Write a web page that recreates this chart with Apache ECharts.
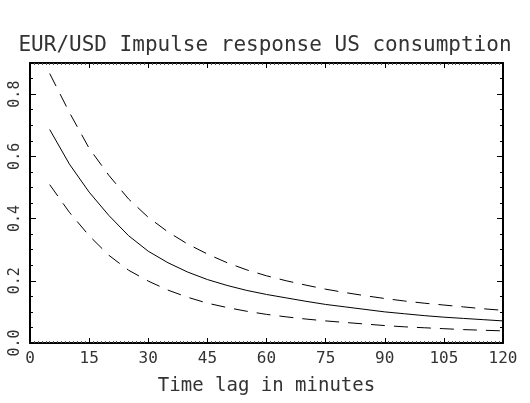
<!DOCTYPE html>
<html>
<head>
<meta charset="utf-8">
<script src="https://cdn.jsdelivr.net/npm/echarts@6/dist/echarts.min.js"></script>
<style>html,body{margin:0;padding:0;background:#fff}#c{width:530px;height:403px}</style>
</head>
<body>
<div id="c"></div>
<script>
var titleText = 'EUR/USD Impulse response US consumption';
var xAxisName = 'Time lag in minutes';
var lags = [5,10,15,20,25,30,35,40,45,50,55,60,65,70,75,80,85,90,95,100,105,110,115,120];
var response = [0.686,0.575,0.485,0.410,0.345,0.295,0.258,0.228,0.204,0.185,0.169,0.156,0.145,0.134,0.124,0.116,0.108,0.100,0.094,0.088,0.083,0.079,0.075,0.071];
var upperBand = [0.866,0.741,0.626,0.539,0.463,0.404,0.357,0.318,0.286,0.258,0.235,0.216,0.200,0.186,0.173,0.162,0.152,0.143,0.135,0.128,0.122,0.116,0.110,0.105];
var lowerBand = [0.509,0.420,0.345,0.282,0.234,0.199,0.170,0.147,0.128,0.114,0.102,0.092,0.084,0.077,0.071,0.066,0.061,0.056,0.052,0.049,0.046,0.043,0.041,0.039];
var xTicks = [0,15,30,45,60,75,90,105,120];
var yTicks = [0.0,0.2,0.4,0.6,0.8];

function pairs(v){ return lags.map(function(l,i){ return [l, v[i]]; }); }
var FONT = 'DejaVu Sans Mono';
var chart = echarts.init(document.getElementById('c'), null, {renderer:'canvas'});

function yAx(pos, interval, len, labels, line){
  return {
    type:'value', position:pos, min:0, max:0.9, interval:interval,
    axisLine:{show:line, lineStyle:{color:'#000', width:2}},
    axisTick:{show:true, inside:true, length:len, lineStyle:{color:'#000', width:1}},
    splitLine:{show:false},
    axisLabel:{show:labels, rotate:90, margin:7, showMaxLabel:false, fontFamily:FONT, fontSize:15, color:'#333',
      formatter:function(v){ return yTicks.indexOf(Math.round(v*10)/10) >= 0 && Math.abs(v*5 - Math.round(v*5))<1e-6 ? v.toFixed(1) : ''; }}
  };
}
function xAx(pos, labels){
  return {
    type:'value', position:pos, min:0, max:120, interval:15,
    name: labels ? xAxisName : '', nameLocation:'middle', nameGap:34,
    nameTextStyle:{fontFamily:FONT, fontSize:19, color:'#333'},
    axisLine:{show:true, onZero:false, lineStyle:{color:'#000', width:2}},
    axisTick:{show:true, inside:true, length:5, lineStyle:{color:'#000', width:1}},
    minorTick:{show:true, splitNumber:15, length:2, lineStyle:{color:'#555', width:1}},
    splitLine:{show:false}, minorSplitLine:{show:false},
    axisLabel:{show:labels, margin:8, fontFamily:FONT, fontSize:16, color:'#333',
      formatter:function(v){ return xTicks.indexOf(v) >= 0 ? String(v) : ''; }}
  };
}

chart.setOption({
  animation:false,
  backgroundColor:'#fff',
  title:{text:titleText, left:'center', top:30, textStyle:{fontFamily:FONT, fontSize:21, fontWeight:'normal', color:'#333'}},
  grid:{left:30, right:27, top:63, bottom:60, containLabel:false},
  xAxis:[xAx('bottom', true), xAx('top', false)],
  yAxis:[yAx('left',0.2,6,true,true), yAx('left',0.05,3,false,false), yAx('right',0.2,6,false,true), yAx('right',0.05,3,false,false)],
  series:[
    {type:'line', data:pairs(response), symbol:'none', smooth:false, lineStyle:{color:'#000', width:1}},
    {type:'line', data:pairs(upperBand), symbol:'none', smooth:false, lineStyle:{color:'#000', width:1, type:[14,9]}},
    {type:'line', data:pairs(lowerBand), symbol:'none', smooth:false, lineStyle:{color:'#000', width:1, type:[14,9]}}
  ]
});
</script>
</body>
</html>
